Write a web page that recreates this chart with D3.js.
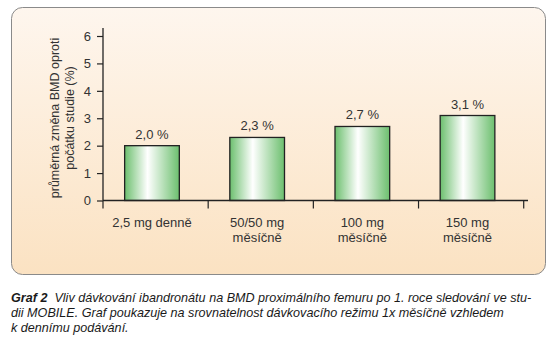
<!DOCTYPE html>
<html><head><meta charset="utf-8">
<script src="https://cdn.jsdelivr.net/npm/d3@7"></script>
<style>body{margin:0;background:#fff}svg{display:block}text{font-family:"Liberation Sans",Arial,sans-serif}</style>
</head><body><div id="c"></div>
<script>
const categories = [["2,5 mg denně"], ["50/50 mg", "měsíčně"], ["100 mg", "měsíčně"], ["150 mg", "měsíčně"]];
const values = [2.0, 2.3, 2.7, 3.1];
const valueLabels = ["2,0 %", "2,3 %", "2,7 %", "3,1 %"];
const yTicks = [0, 1, 2, 3, 4, 5, 6];
const yTitle = ["průměrná změna BMD oproti", "počátku studie (%)"];
const caption = [
  [["Graf 2", true], ["  Vliv dávkování ibandronátu na BMD proximálního femuru po 1. roce sledování ve stu-", false]],
  [["dii MOBILE. Graf poukazuje na srovnatelnost dávkovacího režimu 1x měsíčně vzhledem", false]],
  [["k dennímu podávání.", false]]
];

const W = 556, H = 339;
const svg = d3.select("#c").append("svg").attr("width", W).attr("height", H);
const defs = svg.append("defs");
const bg = defs.append("linearGradient").attr("id", "bg").attr("x1", 0).attr("y1", 0).attr("x2", 0).attr("y2", 1);
bg.append("stop").attr("offset", "0%").attr("stop-color", "#fef6ee");
bg.append("stop").attr("offset", "100%").attr("stop-color", "#fbe2c2");
const bar = defs.append("linearGradient").attr("id", "bar").attr("x1", 0).attr("y1", 0).attr("x2", 1).attr("y2", 0);
bar.append("stop").attr("offset", "0%").attr("stop-color", "#6cbf6e");
bar.append("stop").attr("offset", "42%").attr("stop-color", "#ffffff");
bar.append("stop").attr("offset", "100%").attr("stop-color", "#6cbf6e");

svg.append("rect").attr("x", 11.5).attr("y", 7.5).attr("width", 534).attr("height", 267)
  .attr("rx", 11).attr("fill", "url(#bg)").attr("stroke", "#8a8a8a").attr("stroke-width", 1);

const x0 = 103, x1 = 519.5;
const x = d3.scaleBand().domain(d3.range(categories.length)).range([x0, x1]).paddingInner(0.48).paddingOuter(0.22);
const y = d3.scaleLinear().domain([0, 6]).range([200.5, 36]);
const ink = "#333";

const g = svg.append("g");
// y axis
const ya = g.append("g").attr("transform", `translate(${x0},0)`)
  .call(d3.axisLeft(y).tickValues(yTicks).tickFormat(d3.format("d")).tickSize(6).tickPadding(6));
ya.select(".domain").attr("d", `M0,${y(6) - 8}V${y(0)}`).attr("stroke", "#222").attr("stroke-width", 1.3);
ya.selectAll(".tick line").attr("stroke", "#222").attr("stroke-width", 1.2);
ya.selectAll(".tick text").attr("font-size", 13).attr("fill", ink).attr("font-family", "Liberation Sans, Arial, sans-serif");

// bars
g.selectAll("rect.bar").data(values).join("rect").attr("class", "bar")
  .attr("x", (d, i) => x(i) - 1.5).attr("width", x.bandwidth())
  .attr("y", d => y(d)).attr("height", d => y(0) - y(d))
  .attr("fill", "url(#bar)").attr("stroke", "#222").attr("stroke-width", 1.3);

g.selectAll("text.val").data(values).join("text").attr("class", "val")
  .attr("x", (d, i) => x(i) - 1.5 + x.bandwidth() / 2).attr("y", d => y(d) - 7)
  .attr("text-anchor", "middle").attr("font-size", 13).attr("fill", ink)
  .text((d, i) => valueLabels[i]);

// x axis
const bounds = d3.range(categories.length + 1).map(i => x0 + i * x.step());
g.append("line").attr("x1", x0).attr("x2", 528).attr("y1", y(0)).attr("y2", y(0)).attr("stroke", "#222").attr("stroke-width", 1.3);
g.selectAll("line.xt").data(bounds).join("line").attr("class", "xt")
  .attr("x1", d => d).attr("x2", d => d).attr("y1", y(0)).attr("y2", y(0) + 8)
  .attr("stroke", "#222").attr("stroke-width", 1.2);
const xl = g.selectAll("text.xl").data(categories).join("text").attr("class", "xl")
  .attr("x", (d, i) => x(i) - 1.5 + x.bandwidth() / 2).attr("y", 227)
  .attr("text-anchor", "middle").attr("font-size", 13).attr("fill", ink);
xl.selectAll("tspan").data(d => d).join("tspan")
  .attr("x", function () { return this.parentNode.getAttribute("x"); })
  .attr("dy", (d, j) => j === 0 ? 0 : 15).text(d => d);

// y title
const yt = g.append("text").attr("transform", "translate(54,118) rotate(-90)")
  .attr("text-anchor", "middle").attr("font-size", 12.5).attr("fill", ink);
yt.selectAll("tspan").data(yTitle).join("tspan").attr("x", 0).attr("y", (d, j) => 5 + j * 14.5).text(d => d);

// caption
const cap = svg.append("g");
caption.forEach((line, i) => {
  const t = cap.append("text").attr("x", 11).attr("y", 301.5 + i * 15).attr("font-size", 12.6)
    .attr("font-style", "italic").attr("fill", "#1a1a1a");
  line.forEach(([s, b]) => t.append("tspan").attr("font-weight", b ? "bold" : "normal").attr("xml:space", "preserve").text(s));
});
</script></body></html>
